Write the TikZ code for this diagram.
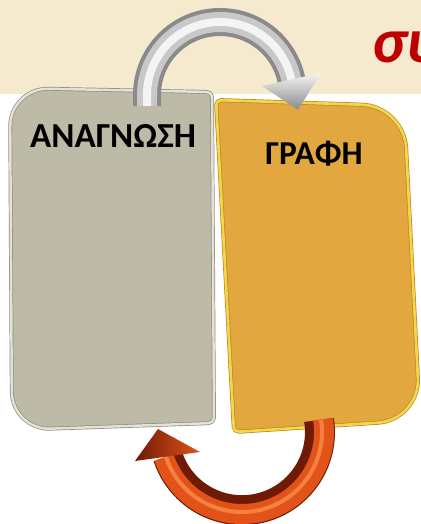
\documentclass[tikz,border=0pt]{standalone}
\usepackage{fontspec}
\setmainfont{Carlito}
\usetikzlibrary{positioning}
\definecolor{parchment}{HTML}{F5E9CE}
\definecolor{cardgray}{HTML}{BEBAA8}
\definecolor{cardgrayedge}{HTML}{E4E2D8}
\definecolor{cardgrayline}{HTML}{8F8C80}
\definecolor{cardgold}{HTML}{E2A83F}
\definecolor{cardgoldedge}{HTML}{F4D64A}
\definecolor{cardgoldline}{HTML}{B9862A}
\definecolor{titlered}{HTML}{C00000}
\definecolor{arrowdark}{HTML}{6E1A05}
\definecolor{arroworange}{HTML}{E2531A}
\definecolor{arrowlight}{HTML}{F5803F}
\definecolor{silverdark}{HTML}{8A8A8A}
\definecolor{silver}{HTML}{C8C8C8}
\definecolor{silverlight}{HTML}{F4F4F4}

\begin{document}
\begin{tikzpicture}[
            x=0.02cm, y=-0.02cm,
            cardtext/.style={anchor=base, text=black,
                             font=\fontsize{20}{24}\selectfont\bfseries},
            readcard/.style={fill=cardgray, draw=cardgrayline, double=cardgrayedge,
                             double distance=1.4pt, line width=0.4pt},
            writecard/.style={fill=cardgold, draw=cardgoldline, double=cardgoldedge,
                              double distance=1.5pt, line width=0.4pt},
            shaft/.style={line cap=butt}
        ]
            \clip (0,0) rectangle (421,524);
            \fill[white] (0,0) rectangle (421,524);
            \fill[parchment] (0,0) rectangle (421,94);
            \node[anchor=base west, text=titlered,
                  font=\fontsize{36}{40}\selectfont\bfseries\itshape] (title) at (366,62) {συ};

            \draw[readcard] (111,90) [rounded corners=22] -- (10,88) -- (12,430)
                [rounded corners=3] -- (214,423) -- (212,92) -- cycle;
            \draw[writecard] (310,103) [rounded corners=3] -- (216,100) -- (234,432)
                [rounded corners=24] -- (420,420) -- (404,106) -- cycle;

            \node[cardtext] (read) at (113,147) {ΑΝΑΓΝΩΣΗ};
            \node[cardtext, font=\fontsize{19}{23}\selectfont\bfseries] (write) at (314,164) {ΓΡΑΦΗ};

            \coordinate (readtop) at (147,106);
            \coordinate (writetop) at (298,110);
            \coordinate (writebottom) at (319,420);
            \coordinate (readbottom) at (158,429);
            \coordinate (loopcenter) at (242,432);

            \foreach \w/\c in {28/silverdark, 20/silver, 8/silverlight}
                \draw[shaft, line width=\w*0.02cm, \c] (readtop) -- (147,95)
                    arc[start angle=180, end angle=348, radius=73];
            \shade[top color=silverlight, bottom color=silverdark]
                (321,73) -- (writetop) -- (262,86) -- cycle;

            \draw[shaft, line width=30*0.02cm, arrowdark] (writebottom)
                arc[start angle=-9, end angle=162, radius=78];
            \foreach \w/\r/\c in {20/82/arroworange, 4/80/arrowlight}
                \draw[shaft, line width=\w*0.02cm, \c] (loopcenter) ++(-9:\r)
                    arc[start angle=-9, end angle=162, radius=\r];
            \shade[left color=arrowdark, right color=arroworange]
                (135,461) -- (readbottom) -- (200,452) -- cycle;
        \end{tikzpicture}
\end{document}
